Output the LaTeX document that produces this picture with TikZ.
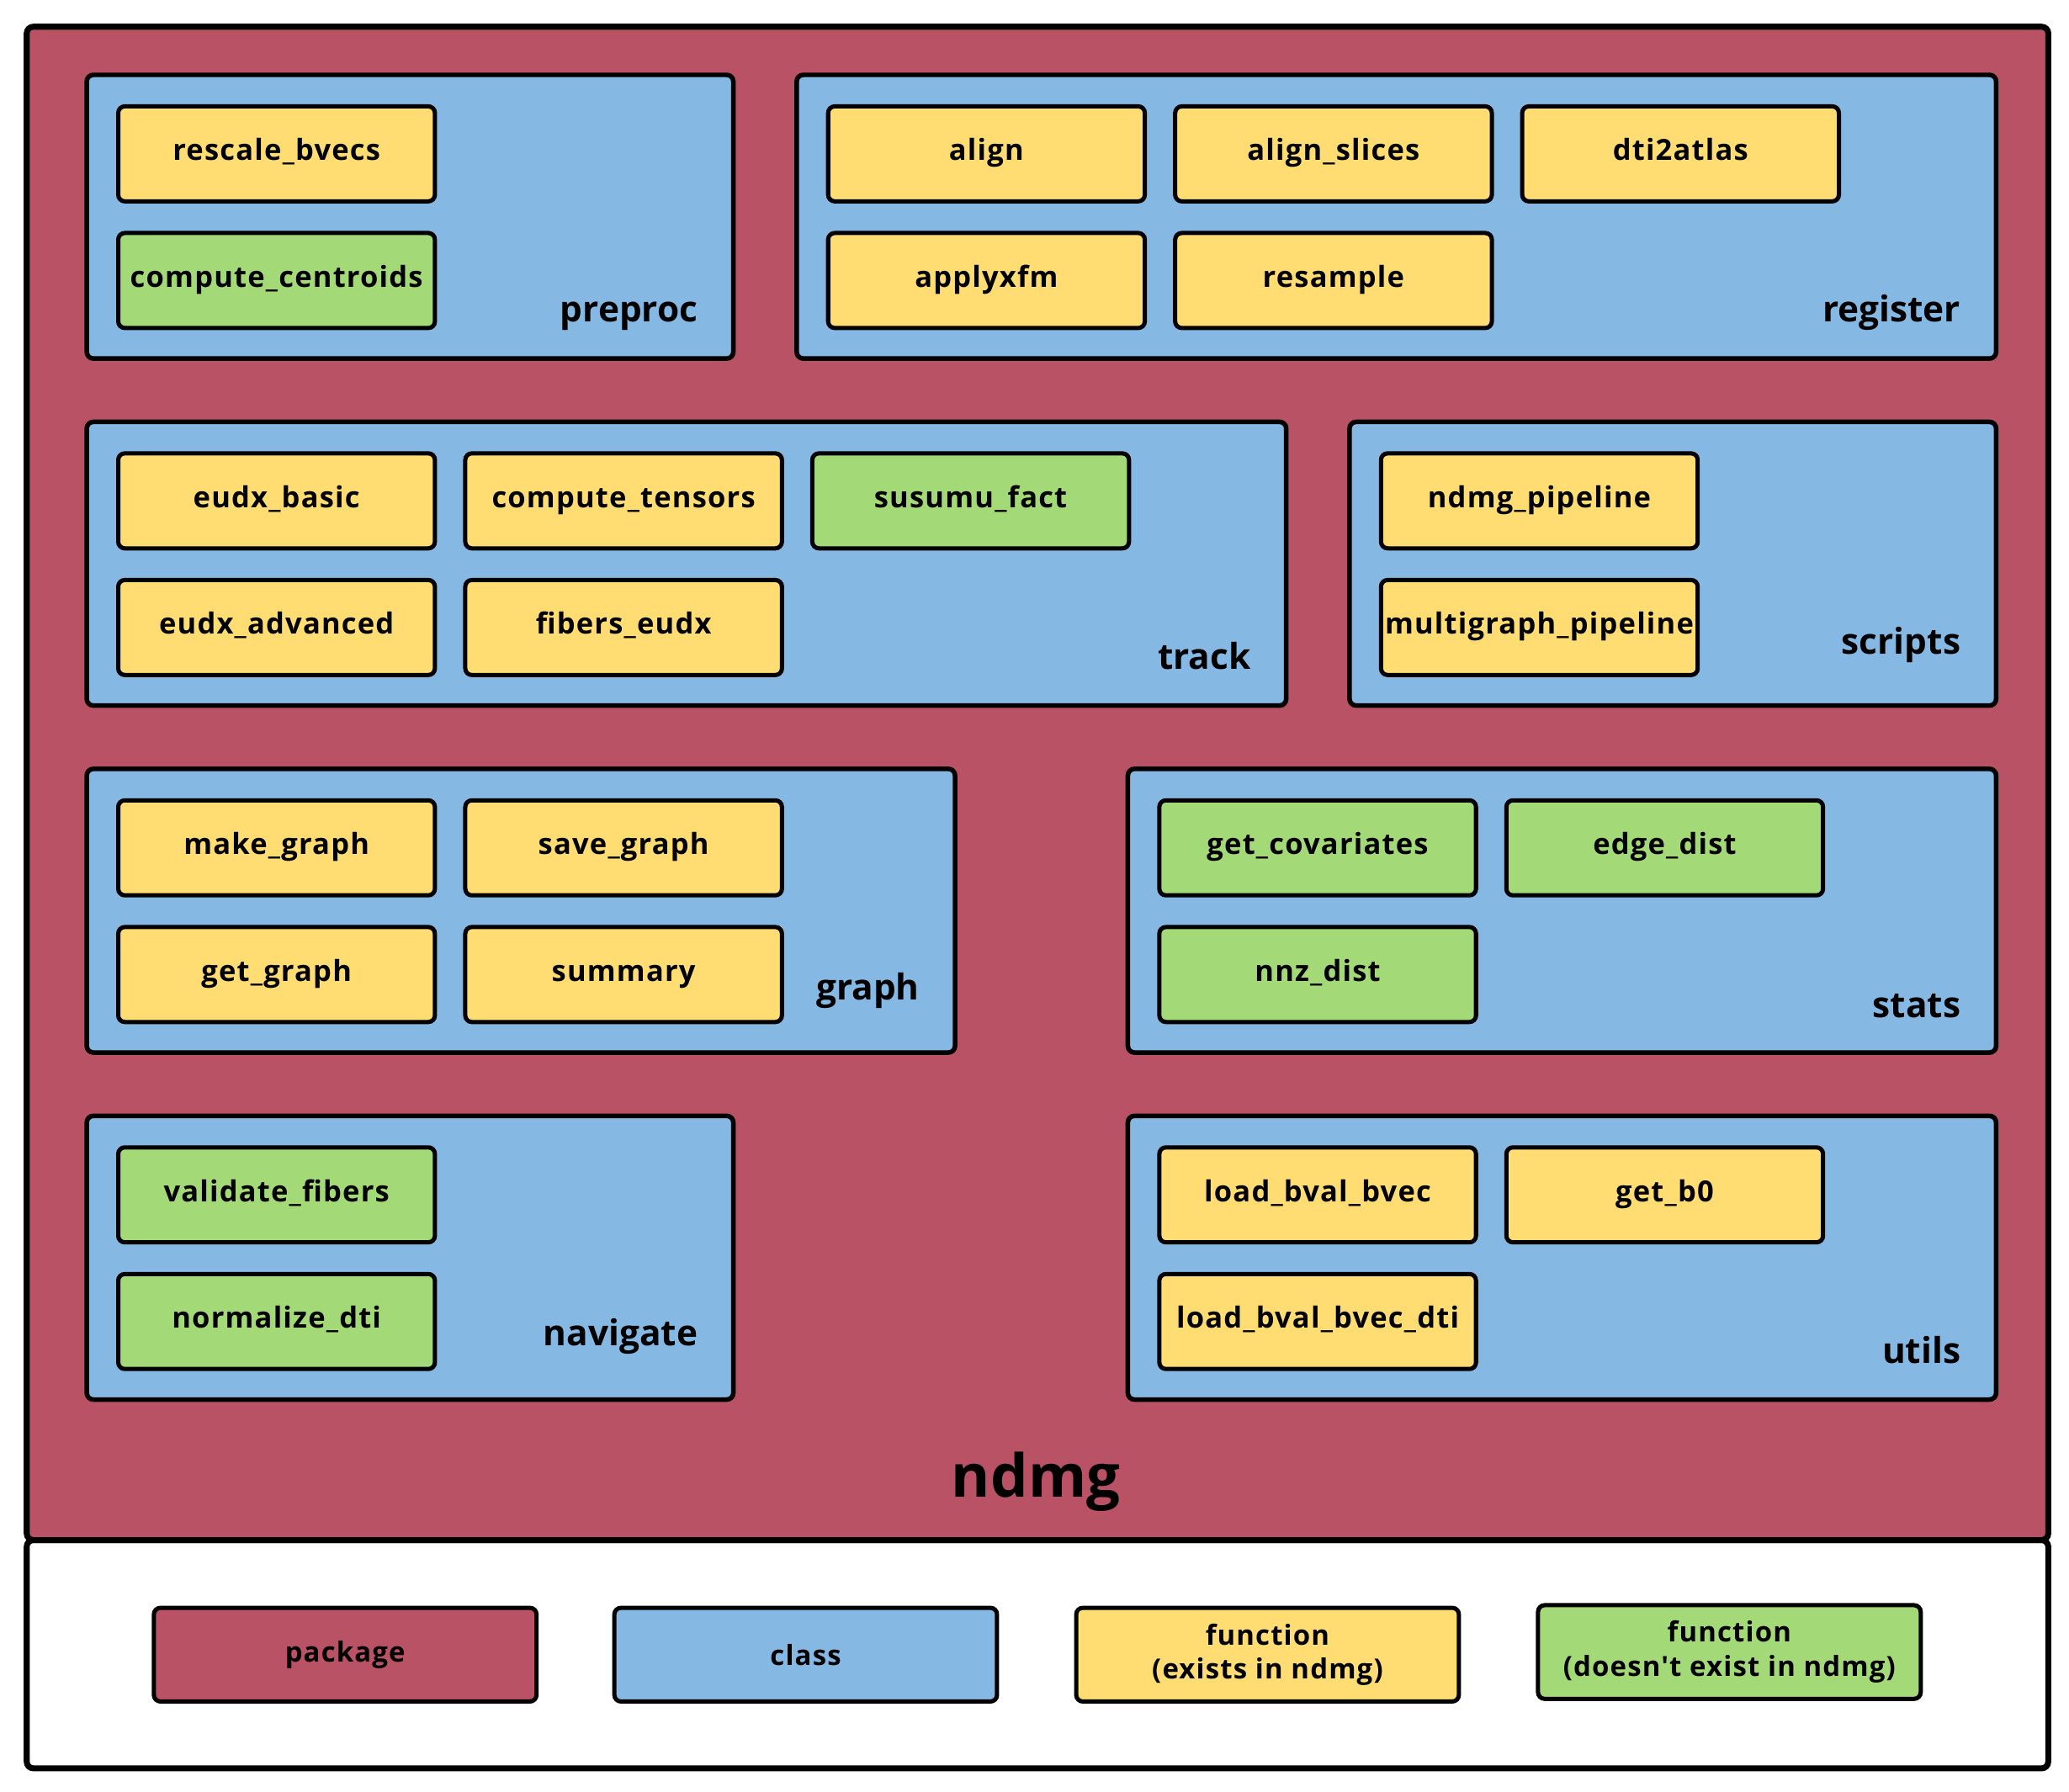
\documentclass[tikz,border=0pt]{standalone}
\usepackage{fontspec}
\setmainfont{Open Sans}
\newfontfamily\fnfont[LetterSpace=3.5]{Open Sans}
\definecolor{pkgred}{RGB}{184,82,100}
\definecolor{clsblue}{RGB}{133,185,227}
\definecolor{fnyellow}{RGB}{255,221,115}
\definecolor{fngreen}{RGB}{164,217,119}
\newcommand\fnbox[5]{\node[fnbox,fill=#4] (#1) at (#2,#3) {#5};}
\newcommand\clsbox[6]{\node[clsbox,minimum width=#4pt] (#1) at (#2,#3) {};
  \node[clslabel] (#1-lbl) at (#5) {#6};}
\begin{document}
\begin{tikzpicture}[x=1pt,y=-1pt,
  basebox/.style={draw=black, rounded corners=5pt, inner sep=0pt, anchor=north west},
  pkgbox/.style={basebox, fill=pkgred, line width=4.5pt},
  clsbox/.style={basebox, fill=clsblue, line width=3.5pt, minimum height=215pt},
  fnbox/.style={basebox, line width=3.2pt, minimum width=240pt, minimum height=72pt,
    text height=15pt, text depth=5pt,
    font=\fnfont\bfseries\fontsize{22}{26}\selectfont, align=center},
  clslabel/.style={anchor=base east, inner sep=0pt, font=\bfseries\fontsize{27}{32}\selectfont},
  legbox/.style={basebox, line width=3.2pt, minimum width=290pt, minimum height=71pt,
    font=\fnfont\bfseries\fontsize{21}{26}\selectfont, align=center}
]
\useasboundingbox (0,0) rectangle (1568,1358);
% legend frame and package
\node[pkgbox, fill=white, minimum width=1532pt, minimum height=173pt] (legend) at (18,1165) {};
\node[pkgbox, minimum width=1532pt, minimum height=1147pt] (ndmg) at (18,18) {};
\node[anchor=base, inner sep=0pt, font=\bfseries\fontsize{45}{50}\selectfont] (ndmg-lbl) at (785,1135) {ndmg};

% classes
\clsbox{preproc}{64}{55}{490}{529,244}{preproc}
\clsbox{register}{602}{55}{909}{1486,244}{register}
\clsbox{track}{64}{318}{909}{948,507}{track}
\clsbox{scripts}{1021}{318}{490}{1486,496}{scripts}
\clsbox{graph}{64}{581}{658}{697,758}{graph}
\clsbox{stats}{853}{581}{658}{1486,771}{stats}
\clsbox{navigate}{64}{844}{490}{529,1020}{navigate}
\clsbox{utils}{853}{844}{658}{1486,1033}{utils}

% functions
\fnbox{rescale}{88}{79}{fnyellow}{rescale\_bvecs}
\fnbox{centroids}{88}{175}{fngreen}{compute\_centroids}
\fnbox{align}{626}{79}{fnyellow}{align}
\fnbox{alignslices}{889}{79}{fnyellow}{align\_slices}
\fnbox{dtiatlas}{1152}{79}{fnyellow}{dti2atlas}
\fnbox{applyxfm}{626}{175}{fnyellow}{applyxfm}
\fnbox{resample}{889}{175}{fnyellow}{resample}
\fnbox{eudxbasic}{88}{342}{fnyellow}{eudx\_basic}
\fnbox{tensors}{351}{342}{fnyellow}{compute\_tensors}
\fnbox{susumu}{614}{342}{fngreen}{susumu\_fact}
\fnbox{eudxadv}{88}{438}{fnyellow}{eudx\_advanced}
\fnbox{fibers}{351}{438}{fnyellow}{fibers\_eudx}
\fnbox{ndmgpipe}{1045}{342}{fnyellow}{ndmg\_pipeline}
\fnbox{multipipe}{1045}{438}{fnyellow}{multigraph\_pipeline}
\fnbox{makegraph}{88}{605}{fnyellow}{make\_graph}
\fnbox{savegraph}{351}{605}{fnyellow}{save\_graph}
\fnbox{getgraph}{88}{701}{fnyellow}{get\_graph}
\fnbox{summary}{351}{701}{fnyellow}{summary}
\fnbox{covariates}{877}{605}{fngreen}{get\_covariates}
\fnbox{edgedist}{1140}{605}{fngreen}{edge\_dist}
\fnbox{nnzdist}{877}{701}{fngreen}{nnz\_dist}
\fnbox{validate}{88}{868}{fngreen}{validate\_fibers}
\fnbox{normalize}{88}{964}{fngreen}{normalize\_dti}
\fnbox{loadbv}{877}{868}{fnyellow}{load\_bval\_bvec}
\fnbox{getbzero}{1140}{868}{fnyellow}{get\_b0}
\fnbox{loadbvdti}{877}{964}{fnyellow}{load\_bval\_bvec\_dti}

% legend entries
\node[legbox, fill=pkgred] (leg-pkg) at (115,1217) {package};
\node[legbox, fill=clsblue] (leg-cls) at (464,1217) {class};
\node[legbox, fill=fnyellow] (leg-fnyes) at (814,1217) {function\\(exists in ndmg)};
\node[legbox, fill=fngreen] (leg-fnno) at (1164,1215) {function\\(doesn't exist in ndmg)};
\end{tikzpicture}
\end{document}
